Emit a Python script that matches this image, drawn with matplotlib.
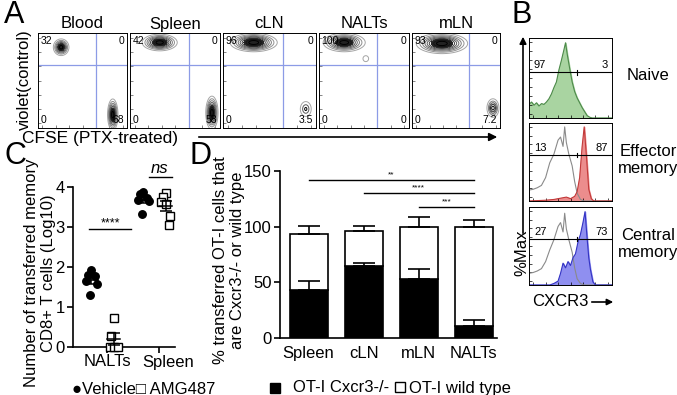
import numpy as np
import matplotlib
matplotlib.use('Agg')
import matplotlib.pyplot as plt

plt.rcParams['font.family'] = ['Liberation Sans', 'DejaVu Sans']
plt.rcParams['font.size'] = 11.5

W, H = 677, 395

# ---------------- panel A: flow plots ----------------
A_TISSUES = ["Blood", "Spleen", "cLN", "NALTs", "mLN"]
A_UL = [32, 42, 96, 100, 93]
A_UR = [0, 0, 0, 0, 0]
A_LL = [0, 0, 0, 0, 0]
A_LR = [68, 58, 3.5, 0, 7.2]
# populations per plot: (cx, cy, sx, sy, rings), in axes fractions
A_POPS = [
    [(0.26, 0.85, 0.045, 0.045, 7), (0.84, 0.14, 0.03, 0.085, 8)],
    [(0.33, 0.90, 0.10, 0.045, 8), (0.91, 0.16, 0.035, 0.09, 8)],
    [(0.33, 0.90, 0.13, 0.05, 9), (0.89, 0.20, 0.03, 0.04, 3)],
    [(0.28, 0.90, 0.12, 0.05, 8), (0.52, 0.73, 0.02, 0.02, 1)],
    [(0.34, 0.89, 0.15, 0.055, 9), (0.92, 0.21, 0.035, 0.05, 5)],
]

# ---------------- panel B: histograms (x, height as fraction of panel) ----------------
NAIVE_X = [0, .03, .06, .09, .12, .15, .18, .21, .24, .27, .30, .33, .36, .39, .42, .44,
           .46, .49, .52, .55, .58, .61, .64, .67, .70, .73, .76, 1.0]
NAIVE_Y = [.17, .20, .16, .19, .15, .18, .17, .20, .24, .30, .38, .45, .60, .72, .85, .94,
           .80, .62, .45, .33, .25, .19, .13, .08, .03, .01, 0, 0]
EFF_GREY_X = [0, .05, .10, .15, .20, .25, .30, .35, .38, .41, .43, .45, .48, .52, .55, .58, .62, .66, 1]
EFF_GREY_Y = [.14, .15, .17, .20, .30, .49, .60, .78, .82, .70, .95, .75, .60, .45, .25, .10, .02, 0, 0]
EFF_RED_X = [0, .20, .30, .40, .45, .50, .55, .58, .61, .64, .665, .69, .72, .75, .78, 1]
EFF_RED_Y = [0, .01, .02, .04, .05, .03, .06, .12, .30, .70, .95, .60, .15, .03, 0, 0]
CEN_GREY_X = [0, .05, .10, .15, .20, .25, .30, .35, .38, .41, .43, .45, .48, .52, .55, .58, .62, .66, 1]
CEN_GREY_Y = [.15, .16, .18, .21, .30, .45, .58, .75, .80, .68, .92, .72, .58, .42, .22, .08, .02, 0, 0]
CEN_BLUE_X = [0, .25, .30, .35, .38, .41, .44, .47, .50, .53, .56, .59, .62, .65, .675, .70, .72, .74, .77, .80, 1]
CEN_BLUE_Y = [0, 0, .02, .05, .15, .28, .22, .30, .25, .35, .40, .55, .65, .80, .94, .60, .35, .20, .04, 0, 0]
B_LEFT = [97, 13, 27]
B_RIGHT = [3, 87, 73]
B_NAMES = ["Naive", "Effector\nmemory", "Central\nmemory"]

# ---------------- panel C ----------------
C_GROUPS = ["NALTs", "Spleen"]
C_VEHICLE = [[1.93, 1.80, 1.78, 1.64, 1.58, 1.30], [3.88, 3.82, 3.72, 3.68, 3.64, 3.33]]
C_AMG = [[0.72, 0.28, 0, 0, 0], [3.85, 3.76, 3.62, 3.58, 3.28, 3.06]]

# ---------------- panel D ----------------
D_TISSUES = ["Spleen", "cLN", "mLN", "NALTs"]
D_KO = [43, 65, 53, 11]
D_KO_ERR = [8, 2.5, 9, 5]
D_TOTAL = [93.5, 96, 100, 100]
D_TOTAL_ERR = [7.5, 5, 9, 6]
D_SIG = [(0, 3, 142, "**"), (1, 3, 130, "****"), (2, 3, 118, "***")]


def px_axes(fig, x0, y0, x1, y1):
    return fig.add_axes([x0 / W, 1 - y1 / H, (x1 - x0) / W, (y1 - y0) / H])


fig = plt.figure(figsize=(W / 100, H / 100), dpi=100)

# overlay for free text / arrows, pixel coords
ov = fig.add_axes([0, 0, 1, 1], zorder=5)
ov.set_xlim(0, W)
ov.set_ylim(H, 0)
ov.axis('off')
ov.patch.set_alpha(0)

# ---- A ----
boxes = [(38, 127), (130, 220), (223, 316), (319, 409), (412, 500)]
gx, gy = np.meshgrid(np.linspace(0, 1, 200), np.linspace(0, 1, 200))
for i, (x0, x1) in enumerate(boxes):
    ax = px_axes(fig, x0, 33, x1, 128)
    for cx, cy, sx, sy, rings in A_POPS[i]:
        z = np.exp(-((gx - cx) ** 2 / (2 * sx ** 2) + (gy - cy) ** 2 / (2 * sy ** 2)))
        lv = np.linspace(0.15, 0.92, rings) if rings > 1 else [0.3]
        cols = plt.cm.Greys(np.linspace(0.45, 1.0, len(lv)))
        ax.contour(gx, gy, z, levels=lv, colors=cols, linewidths=0.7)
        if rings > 5:
            ax.contourf(gx, gy, z, levels=[0.72, 1.01], colors=['#222222'])
    ax.axvline(0.65, color='#8c9be6', lw=0.9)
    ax.axhline(0.66, color='#8c9be6', lw=0.9)
    ax.set_xlim(0, 1)
    ax.set_ylim(0, 1)
    ax.set_xticks(np.linspace(0.05, 0.95, 7))
    ax.set_yticks(np.linspace(0.05, 0.95, 7))
    ax.tick_params(direction='in', length=2, width=0.5, labelbottom=False, labelleft=False,
                   color='#555555')
    for s in ax.spines.values():
        s.set_linewidth(0.7)
    ax.text(0.03, 0.97, f"{A_UL[i]:g}", transform=ax.transAxes, fontsize=7.5, va='top', ha='left')
    ax.text(0.97, 0.97, f"{A_UR[i]:g}", transform=ax.transAxes, fontsize=7.5, va='top', ha='right')
    ax.text(0.03, 0.03, f"{A_LL[i]:g}", transform=ax.transAxes, fontsize=7.5, va='bottom', ha='left')
    ax.text(0.97, 0.03, f"{A_LR[i]:g}", transform=ax.transAxes, fontsize=7.5, va='bottom', ha='right')
    ov.text((x0 + x1) / 2, 24, A_TISSUES[i], ha='center', va='center', fontsize=12)

ov.text(4, 0, "A", fontsize=22, va='top', ha='left')
ov.text(24, 80, "violet(control)", rotation=90, ha='center', va='center', fontsize=12)
ov.text(22, 138, "CFSE (PTX-treated)", ha='left', va='center', fontsize=12.5)
ov.annotate("", xy=(500, 137), xytext=(196, 137),
            arrowprops=dict(arrowstyle='-|>', color='k', lw=1.2, mutation_scale=12))

# ---- B ----
ov.text(511, 0, "B", fontsize=22, va='top', ha='left')
ov.annotate("", xy=(523, 34), xytext=(523, 236),
            arrowprops=dict(arrowstyle='-|>', color='k', lw=1.2, mutation_scale=10))
ov.text(522, 253, "%Max", rotation=90, ha='center', va='center', fontsize=12)
ov.text(532, 302, "CXCR3", ha='left', va='center', fontsize=12)
ov.annotate("", xy=(616, 302), xytext=(589, 302),
            arrowprops=dict(arrowstyle='-|>', color='k', lw=1.2, mutation_scale=9))

hist_rows = [(38, 118), (123, 201), (207, 285)]
for k, (y0, y1) in enumerate(hist_rows):
    ax = px_axes(fig, 529, y0, 612, y1)
    if k == 0:
        ax.fill_between(NAIVE_X, NAIVE_Y, color='#a9d4a1')
        ax.plot(NAIVE_X, NAIVE_Y, color='#4d8a4a', lw=0.8)
    elif k == 1:
        ax.plot(EFF_GREY_X, EFF_GREY_Y, color='#8a8a8a', lw=0.8)
        ax.fill_between(EFF_RED_X, EFF_RED_Y, color='#ec8d8d')
        ax.plot(EFF_RED_X, EFF_RED_Y, color='#c23a3a', lw=0.8)
    else:
        ax.plot(CEN_GREY_X, CEN_GREY_Y, color='#8a8a8a', lw=0.8)
        ax.fill_between(CEN_BLUE_X, CEN_BLUE_Y, color='#8f8ff0')
        ax.plot(CEN_BLUE_X, CEN_BLUE_Y, color='#3434c4', lw=0.8)
    gate_y = 0.57 if k == 0 else 0.59
    ax.axhline(gate_y, color='k', lw=0.8)
    ax.plot([0.58, 0.58], [gate_y - 0.03, gate_y + 0.03], color='k', lw=0.8)
    ax.text(0.06, gate_y + 0.03, f"{B_LEFT[k]}", transform=ax.transAxes, fontsize=8, va='bottom')
    ax.text(0.95, gate_y + 0.03, f"{B_RIGHT[k]}", transform=ax.transAxes, fontsize=8, va='bottom', ha='right')
    ax.set_xlim(0, 1)
    ax.set_ylim(0, 1)
    ax.set_xticks(np.linspace(0.05, 0.95, 7))
    ax.set_yticks(np.linspace(0.05, 0.95, 9))
    ax.tick_params(direction='in', length=2, width=0.5, labelbottom=False, labelleft=False)
    for s in ax.spines.values():
        s.set_linewidth(0.7)
    ov.text(648, (y0 + y1) / 2 - 2, B_NAMES[k], ha='center', va='center', fontsize=12, linespacing=1.1)

# ---- C ----
ov.text(4, 141, "C", fontsize=22, va='top', ha='left')
axc = px_axes(fig, 73, 163, 175, 353)
px_per = 40.0
axc.set_ylim(-6 / px_per, 4 + 24 / px_per)
axc.set_xlim(0.346, 2.31)
jit_v = [0.0, -0.07, 0.07, -0.1, 0.1, -0.02]
jit_a = [0.0, -0.06, -0.08, 0.0, 0.08, 0.06]
for g in range(2):
    xv = g + 1 - 0.3
    xa = g + 1 + 0.13
    vals_v = np.array(C_VEHICLE[g])
    vals_a = np.array(C_AMG[g])
    axc.plot(xv + np.array(jit_v[:len(vals_v)]), vals_v, 'o', color='k', ms=5.4, zorder=3)
    axc.plot(xa + np.array(jit_a[:len(vals_a)]), vals_a, 's', mfc='white', mec='k', mew=1.0,
             ms=5.8, zorder=3, clip_on=False)
    for x, v in [(xv, vals_v), (xa, vals_a)]:
        m = v.mean()
        se = v.std(ddof=1) / np.sqrt(len(v))
        axc.plot([x - 0.13, x + 0.13], [m, m], color='k', lw=1.1, zorder=4)
        axc.errorbar([x], [m], yerr=[se], fmt='none', ecolor='k', elinewidth=1.1,
                     capsize=4, capthick=1.1, zorder=4)
axc.plot([0.655, 1.47], [2.95, 2.95], color='k', lw=1.0)
axc.text(1.06, 2.95, "****", ha='center', va='bottom', fontsize=9)
axc.plot([1.80, 2.25], [4.25, 4.25], color='k', lw=1.0, clip_on=False)
axc.text(2.02, 4.27, "ns", ha='center', va='bottom', fontsize=12, style='italic')
axc.spines['top'].set_visible(False)
axc.spines['right'].set_visible(False)
axc.spines['bottom'].set_position(('data', 0))
axc.spines['left'].set_bounds(0, 4)
for s in ['left', 'bottom']:
    axc.spines[s].set_linewidth(1.2)
axc.set_yticks([0, 1, 2, 3, 4])
axc.set_xticks([1, 2])
axc.set_xticklabels([])
axc.tick_params(length=4, width=1.2, labelsize=12, pad=2)
for g, name in enumerate(C_GROUPS):
    ov.text(107 + 53 * g + (0 if g == 0 else 8), 362, name, ha='center', va='center', fontsize=12)
ov.text(40, 273, "Number of transferred memory\nCD8+ T cells (Log10)", rotation=90,
        ha='center', va='center', fontsize=12, linespacing=1.1)
ov.text(72, 389, "\u25cfVehicle\u25a1 AMG487", ha='left', va='center', fontsize=12)

# ---- D ----
ov.text(189, 141, "D", fontsize=22, va='top', ha='left')
axd = px_axes(fig, 280, 171, 497, 338)
xs = np.arange(len(D_TISSUES))
wt_part = np.array(D_TOTAL) - np.array(D_KO)
axd.bar(xs, D_KO, width=0.69, color='k', edgecolor='k', lw=1.2, zorder=2)
axd.bar(xs, wt_part, bottom=D_KO, width=0.69, color='white', edgecolor='k', lw=1.2, zorder=2)
axd.errorbar(xs, D_TOTAL, yerr=[np.zeros(4), D_TOTAL_ERR], fmt='none', ecolor='k',
             elinewidth=1.2, capsize=8, capthick=1.2, zorder=3)
axd.errorbar(xs, D_KO, yerr=[np.zeros(4), D_KO_ERR], fmt='none', ecolor='k',
             elinewidth=1.2, capsize=8, capthick=1.2, zorder=3)
for a, b, y, lab in D_SIG:
    axd.plot([a, b], [y, y], color='k', lw=1.0)
    axd.text((a + b) / 2, y + 1.5, lab, ha='center', va='bottom', fontsize=6)
axd.set_xlim(-0.52, 3.42)
axd.set_ylim(0, 150)
axd.spines['top'].set_visible(False)
axd.spines['right'].set_visible(False)
for s in ['left', 'bottom']:
    axd.spines[s].set_linewidth(1.2)
axd.set_yticks([0, 50, 100, 150])
axd.set_xticks(xs)
axd.set_xticklabels(D_TISSUES)
axd.tick_params(axis='y', length=4, width=1.2, labelsize=12, pad=2)
axd.tick_params(axis='x', length=0, labelsize=12, pad=6)
ov.text(229, 260, "% transferred OT-I cells that\nare Cxcr3-/- or wild type", rotation=90,
        ha='center', va='center', fontsize=12, linespacing=1.1)
ov.plot([275], [388], 's', color='k', ms=7.5)
ov.text(293, 388, "OT-I Cxcr3-/-", ha='left', va='center', fontsize=12)
ov.plot([400], [387], 's', mfc='white', mec='k', mew=1.0, ms=7)
ov.text(409, 388, "OT-I wild type", ha='left', va='center', fontsize=12)

fig.savefig("out.png", dpi=100)
